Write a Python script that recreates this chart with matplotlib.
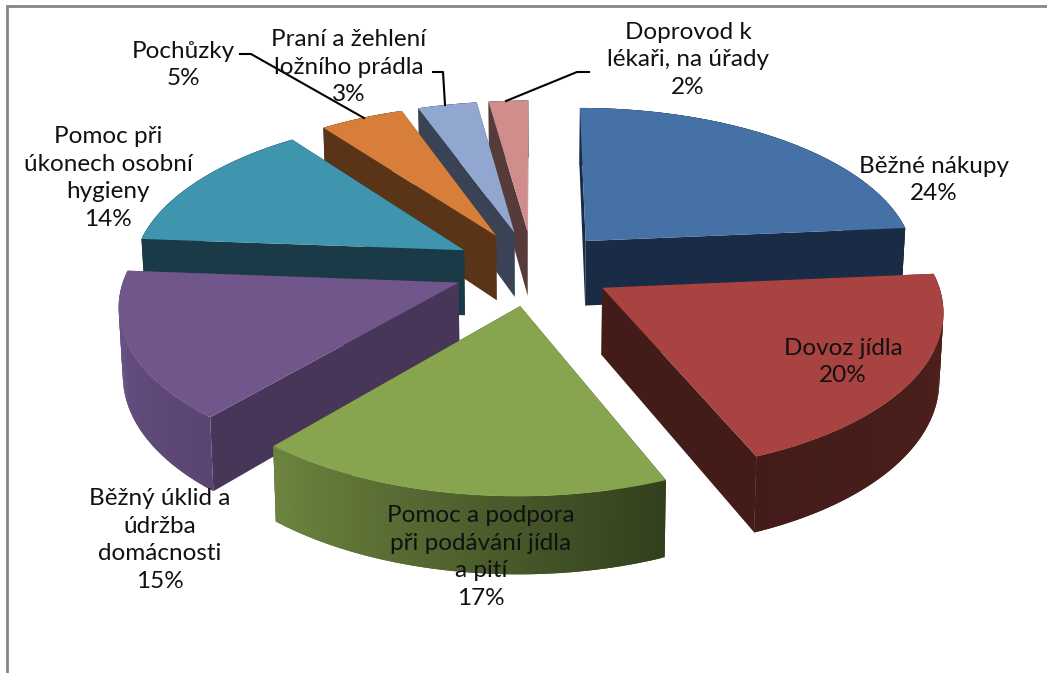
import matplotlib
matplotlib.use("Agg")
import matplotlib.pyplot as plt
import numpy as np
from matplotlib.colors import to_rgb
from matplotlib.patches import Polygon

plt.rcParams['font.family'] = ['Lato', 'DejaVu Sans']

names = ["Běžné nákupy", "Dovoz jídla", "Pomoc a podpora\npři podávání jídla\na pití",
         "Běžný úklid a\núdržba\ndomácnosti", "Pomoc při\núkonech osobní\nhygieny",
         "Pochůzky", "Praní a žehlení\nložního prádla", "Doprovod k\nlékaři, na úřady"]
values = [23.6, 20.2, 17.4, 15.0, 13.6, 4.7, 3.3, 2.2]

top_col = ["#4571a6", "#a84341", "#87a44e", "#71568c", "#3f95ae", "#d77f3a", "#92a7cf", "#cf8d8c"]
wall_col = ["#1a2c45", "#431c19", "#34421f", "#483659", "#193a46", "#593417", "#3a4356", "#573a3a"]
# outer wall colour at start / end of each arc
arc_a = ["#1a2c45", "#50201c", "#323f1d", "#5a4472", "#193a46", "#593417", "#3a4356", "#573a3a"]
arc_b = ["#1a2c45", "#431c19", "#6d843f", "#6a5488", "#193a46", "#593417", "#3a4356", "#573a3a"]
draw_order = [7, 6, 5, 0, 4, 3, 1, 2]

# projection of the tilted pie
cx, cy = 533, 268
ax_x, ax_y = 332, 156
persp = 0.125
explode = 0.24
depth = 66


def project(u, v, low=False):
    s = 1 / (1 - persp * v)
    x = ax_x * u * s
    y = ax_y * v * s
    if low:
        return cx + x * 0.99, cy + y + depth * s
    return cx + x, cy + y


def draw_slice(ax, i, t0, t1):
    mid = (t0 + t1) / 2
    ou, ov = explode * np.sin(mid), -explode * np.cos(mid)
    th = np.linspace(t0, t1, 80)
    u = ou + np.sin(th)
    v = ov - np.cos(th)
    top = np.array(project(u, v)).T
    low = np.array(project(u, v, True)).T
    apex = np.array(project(ou, ov))
    apex_low = np.array(project(ou, ov, True))

    for edge, edge_low in [(top[0], low[0]), (top[-1], low[-1])]:
        ax.add_patch(Polygon([apex, edge, edge_low, apex_low], fc=wall_col[i], ec='none'))

    # overlap the strips by one step so no seams show
    c0, c1 = np.array(to_rgb(arc_a[i])), np.array(to_rgb(arc_b[i]))
    n = len(th)
    for k in range(n - 1):
        c = c0 + (c1 - c0) * k / (n - 2)
        j = min(k + 2, n - 1)
        ax.add_patch(Polygon([top[k], top[j], low[j], low[k]], fc=c, ec='none'))

    ax.add_patch(Polygon(np.vstack([apex, top]), fc=top_col[i], ec='none'))


fig = plt.figure(figsize=(10.47, 6.73), dpi=100)
ax = fig.add_axes([0, 0, 1, 1])
ax.set_xlim(0, 1047)
ax.set_ylim(673, 0)
ax.axis('off')

# chart frame, only the top and left edges are in the crop
ax.plot([7, 7, 1047], [673, 6, 6], color="#868686", lw=2, solid_joinstyle='miter')

edges = np.cumsum([0] + values) / sum(values) * 2 * np.pi
for i in draw_order:
    draw_slice(ax, i, edges[i], edges[i + 1])

# leader lines
ax.plot([240, 251, 364], [54, 54, 118], color="black", lw=1.5)
ax.plot([433, 443, 445], [72, 72, 105], color="black", lw=1.5)
ax.plot([589, 577, 506], [72, 72, 101], color="black", lw=1.5)

label_pos = [(934, 180), (843, 362), (481, 557), (160, 540), (108, 178), (183, 65), (349, 67), (688, 60)]
for name, val, (x, y) in zip(names, values, label_pos):
    ax.text(x, y, f"{name}\n{val:.0f}%", ha='center', va='center', fontsize=17.5, color="#111111", linespacing=1.4)

fig.savefig("out.png", dpi=100)
